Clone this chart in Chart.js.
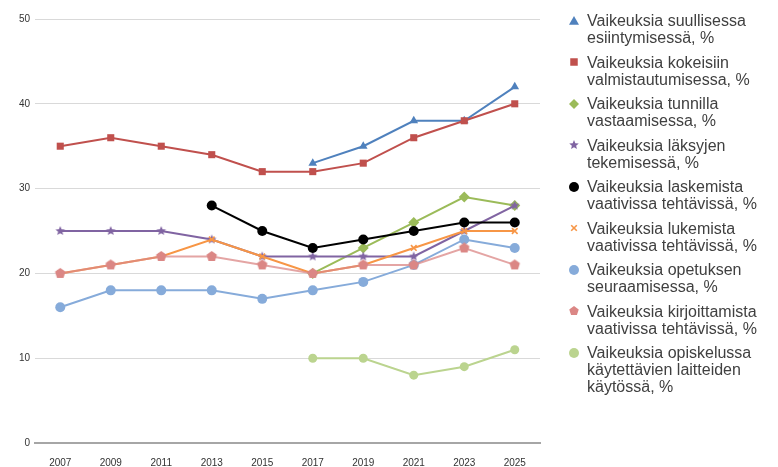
<!DOCTYPE html>
<html>
<head>
<meta charset="utf-8">
<script src="https://cdn.jsdelivr.net/npm/chart.js@4.4.1/dist/chart.umd.min.js"></script>
<style>
  html, body { margin: 0; padding: 0; background: #fff; }
  #wrap { position: relative; width: 778px; height: 467px; }
  #legend { position: absolute; left: 0; top: 0; }
  .item { position: absolute; left: 587px; font-family: "Liberation Sans", Arial, sans-serif;
          font-size: 16px; line-height: 17px; color: #404040; white-space: nowrap; }
  .item canvas { position: absolute; left: -19px; top: 3px; }
</style>
</head>
<body>
<div id="wrap">
  <canvas id="chart" width="778" height="467"></canvas>
  <div id="legend"></div>
</div>
<script>
const years = ['2007', '2009', '2011', '2013', '2015', '2017', '2019', '2021', '2023', '2025'];

const suullinen      = [null, null, null, null, null, 33, 35, 38, 38, 42];
const kokeet         = [35, 36, 35, 34, 32, 32, 33, 36, 38, 40];
const tunnilla       = [null, null, null, null, null, 20, 23, 26, 29, 28];
const laksyt         = [25, 25, 25, 24, 22, 22, 22, 22, 25, 28];
const laskeminen     = [null, null, null, 28, 25, 23, 24, 25, 26, 26];
const lukeminen      = [20, 21, 22, 24, 22, 20, 21, 23, 25, 25];
const opetus         = [16, 18, 18, 18, 17, 18, 19, 21, 24, 23];
const kirjoittaminen = [20, 21, 22, 22, 21, 20, 21, 21, 23, 21];
const laitteet       = [null, null, null, null, null, 10, 10, 8, 9, 11];

const labels = [
  ['Vaikeuksia suullisessa', 'esiintymisessä, %'],
  ['Vaikeuksia kokeisiin', 'valmistautumisessa, %'],
  ['Vaikeuksia tunnilla', 'vastaamisessa, %'],
  ['Vaikeuksia läksyjen', 'tekemisessä, %'],
  ['Vaikeuksia laskemista', 'vaativissa tehtävissä, %'],
  ['Vaikeuksia lukemista', 'vaativissa tehtävissä, %'],
  ['Vaikeuksia opetuksen', 'seuraamisessa, %'],
  ['Vaikeuksia kirjoittamista', 'vaativissa tehtävissä, %'],
  ['Vaikeuksia opiskelussa', 'käytettävien laitteiden', 'käytössä, %']
];

// marker drawing shared by chart (star / pentagon) and the html legend
function makeMarker(style, r, color) {
  const s = Math.ceil(r * 2 + 4);
  const c = document.createElement('canvas');
  c.width = s; c.height = s;
  const g = c.getContext('2d');
  const cx = s / 2, cy = s / 2;
  g.fillStyle = color; g.strokeStyle = color;
  g.beginPath();
  if (style === 'triangle') {
    g.moveTo(cx, cy - r); g.lineTo(cx + r, cy + r * 0.75); g.lineTo(cx - r, cy + r * 0.75);
  } else if (style === 'rect') {
    g.rect(cx - r * 0.75, cy - r * 0.75, r * 1.5, r * 1.5);
  } else if (style === 'rectRot') {
    g.moveTo(cx, cy - r); g.lineTo(cx + r, cy); g.lineTo(cx, cy + r); g.lineTo(cx - r, cy);
  } else if (style === 'star' || style === 'pentagon') {
    const n = style === 'star' ? 10 : 5;
    for (let i = 0; i < n; i++) {
      const a = -Math.PI / 2 + i * 2 * Math.PI / n;
      const rr = (style === 'star' && i % 2) ? r * 0.45 : r;
      g.lineTo(cx + rr * Math.cos(a), cy + rr * Math.sin(a));
    }
  } else if (style === 'crossRot') {
    g.lineWidth = 1.6;
    g.moveTo(cx - r * 0.7, cy - r * 0.7); g.lineTo(cx + r * 0.7, cy + r * 0.7);
    g.moveTo(cx + r * 0.7, cy - r * 0.7); g.lineTo(cx - r * 0.7, cy + r * 0.7);
    g.stroke();
    return c;
  } else {
    g.arc(cx, cy, r, 0, Math.PI * 2);
  }
  g.closePath(); g.fill();
  return c;
}

const series = [
  { data: suullinen,      color: '#4F81BD', line: '#4F81BD', style: 'triangle', r: 5 },
  { data: kokeet,         color: '#C0504D', line: '#C0504D', style: 'rect',     r: 5 },
  { data: tunnilla,       color: '#9BBB59', line: '#9BBB59', style: 'rectRot',  r: 5.5 },
  { data: laksyt,         color: '#8064A2', line: '#8064A2', style: 'star',     r: 5 },
  { data: laskeminen,     color: '#000000', line: '#000000', style: 'circle',   r: 5 },
  { data: lukeminen,      color: '#F79646', line: '#F79646', style: 'crossRot', r: 4 },
  { data: opetus,         color: '#86ABDA', line: '#86ABDA', style: 'circle',   r: 5 },
  { data: kirjoittaminen, color: '#DB8785', line: 'rgba(219,135,133,0.75)', style: 'pentagon', r: 5.5 },
  { data: laitteet,       color: '#BBD48F', line: '#BBD48F', style: 'circle',   r: 4.5 }
];

const datasets = series.map((s, i) => {
  const custom = (s.style === 'star' || s.style === 'pentagon');
  return {
    label: labels[i].join(' '),
    data: s.data,
    borderColor: s.line,
    backgroundColor: s.color,
    pointBorderColor: s.color,
    pointBackgroundColor: s.color,
    borderWidth: 2,
    pointStyle: custom ? makeMarker(s.style, s.r, s.color) : s.style,
    pointRadius: s.r,
    pointBorderWidth: s.style === 'crossRot' ? 1.6 : 0,
    pointHoverRadius: s.r,
    tension: 0,
    order: 8 - i
  };
});

new Chart(document.getElementById('chart'), {
  type: 'line',
  data: { labels: years, datasets: datasets },
  options: {
    responsive: false,
    animation: false,
    layout: { padding: { top: 19, right: 238, left: 0, bottom: 0 } },
    plugins: { legend: { display: false }, tooltip: { enabled: false } },
    scales: {
      x: {
        offset: true,
        grid: { display: false },
        border: { display: true, color: '#A6A6A6', width: 2 },
        ticks: { color: '#333', font: { family: 'Liberation Sans, Arial', size: 10 }, padding: 6, maxRotation: 0 },
        afterFit: (scale) => { scale.height = 24; }
      },
      y: {
        min: 0, max: 50,
        ticks: { stepSize: 10, color: '#333', font: { family: 'Liberation Sans, Arial', size: 10 }, padding: 5 },
        grid: { color: '#D9D9D9', drawTicks: false },
        border: { display: false },
        afterFit: (scale) => { scale.width = 35; }
      }
    }
  }
});

// html legend with wrapped labels
const legend = document.getElementById('legend');
series.forEach((s, i) => {
  const div = document.createElement('div');
  div.className = 'item';
  div.style.top = (12 + i * 41.5) + 'px';
  div.innerHTML = labels[i].join('<br>');
  const m = makeMarker(s.style, s.style === 'crossRot' ? 4 : 5, s.color);
  m.style.left = (-13 - m.width / 2) + 'px';
  m.style.top = (8.5 - m.height / 2) + 'px';
  div.appendChild(m);
  legend.appendChild(div);
});
</script>
</body>
</html>
